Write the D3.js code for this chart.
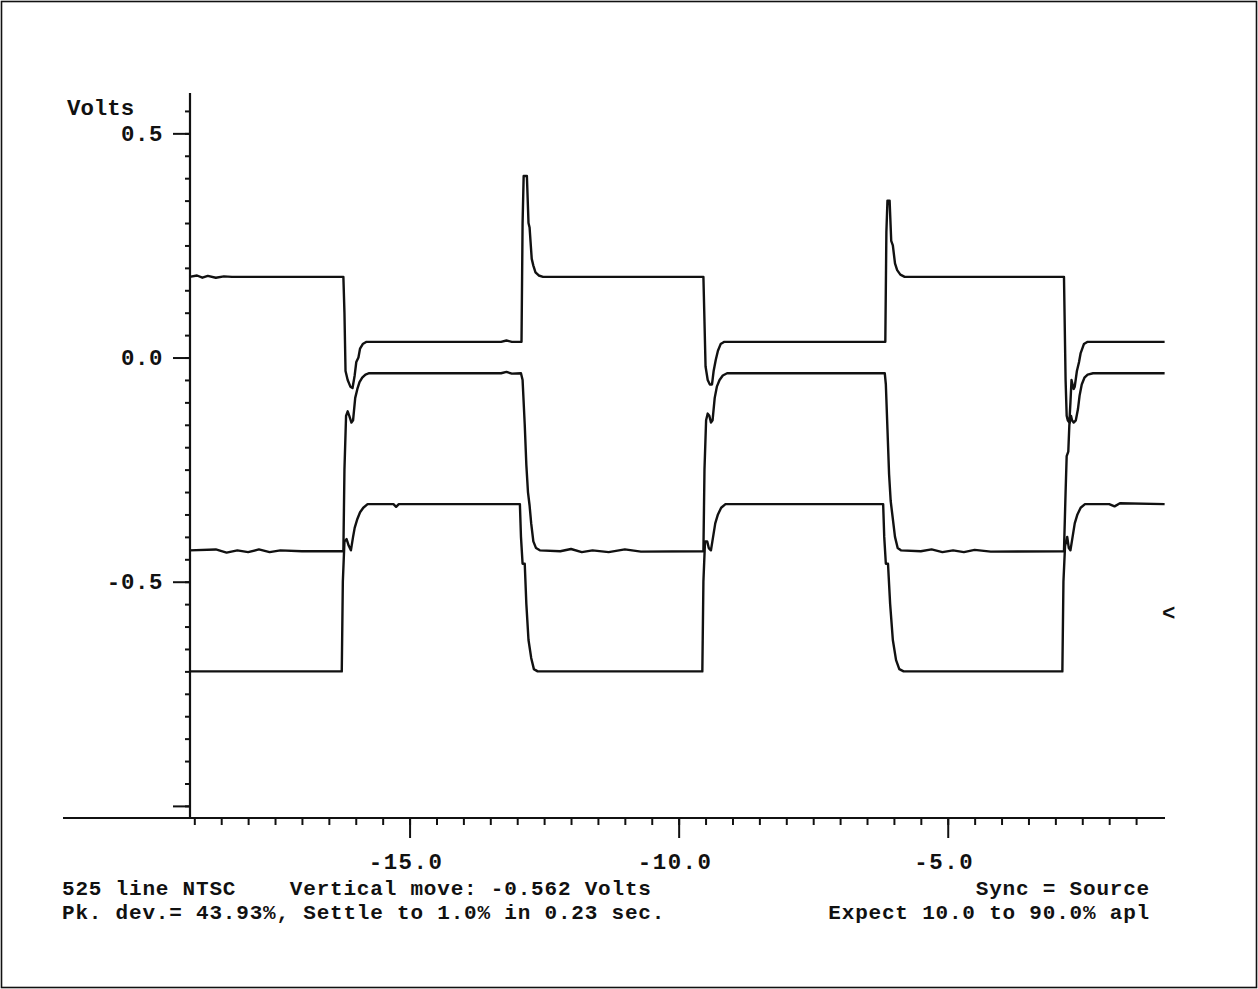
<!DOCTYPE html>
<html>
<head>
<meta charset="utf-8">
<script src="https://cdn.jsdelivr.net/npm/d3@7"></script>
<style>
	html, body { margin:0; padding:0; background:#fff; }
	svg text { font-family:"Liberation Mono","Courier New",monospace; font-weight:bold; fill:#111; }
</style>
</head>
<body>
<div id="chart"></div>
<script>
// traces: [time, volts]
const trace1 = [
	[-19.09,0.18],[-18.95,0.183],[-18.85,0.178],[-18.75,0.182],[-18.6,0.178],[-18.45,0.181],[-18.3,0.18],
	[-16.23,0.18],[-16.21,0.10],[-16.19,-0.03],[-16.15,-0.05],[-16.10,-0.065],[-16.06,-0.068],
	[-16.02,-0.04],[-15.99,-0.01],[-15.95,0.0],[-15.92,0.02],[-15.87,0.03],[-15.80,0.035],
	[-13.3,0.035],[-13.2,0.038],[-13.1,0.035],[-12.92,0.035],
	[-12.90,0.30],[-12.88,0.405],[-12.82,0.405],[-12.79,0.30],[-12.77,0.29],[-12.73,0.22],
	[-12.70,0.205],[-12.66,0.19],[-12.60,0.183],[-12.52,0.18],
	[-9.54,0.18],[-9.52,0.08],[-9.50,-0.02],[-9.46,-0.05],[-9.42,-0.06],[-9.38,-0.06],[-9.35,-0.03],
	[-9.31,-0.005],[-9.27,0.015],[-9.22,0.03],[-9.15,0.035],
	[-6.16,0.035],[-6.14,0.28],[-6.12,0.35],[-6.08,0.35],[-6.05,0.26],[-6.02,0.25],[-5.98,0.21],
	[-5.94,0.195],[-5.88,0.185],[-5.80,0.18],
	[-2.84,0.18],[-2.81,-0.05],[-2.79,-0.13],[-2.77,-0.14],[-2.74,-0.145],[-2.72,-0.10],[-2.70,-0.05],
	[-2.68,-0.06],[-2.66,-0.07],[-2.64,-0.065],[-2.60,-0.03],[-2.56,-0.01],[-2.53,0.01],[-2.47,0.03],
	[-2.40,0.035],[-0.97,0.035]
];

const trace2 = [
	[-19.09,-0.43],[-18.6,-0.428],[-18.4,-0.435],[-18.2,-0.43],[-18.0,-0.434],[-17.8,-0.428],[-17.6,-0.434],
	[-17.4,-0.43],[-17.0,-0.432],[-16.23,-0.432],
	[-16.21,-0.25],[-16.18,-0.13],[-16.15,-0.12],[-16.12,-0.13],[-16.08,-0.145],[-16.05,-0.14],
	[-16.01,-0.09],[-15.97,-0.07],[-15.93,-0.055],[-15.88,-0.045],[-15.82,-0.038],[-15.75,-0.035],
	[-13.3,-0.035],[-13.2,-0.032],[-13.1,-0.036],[-12.93,-0.035],
	[-12.90,-0.05],[-12.86,-0.15],[-12.83,-0.24],[-12.80,-0.30],[-12.77,-0.33],[-12.74,-0.37],
	[-12.70,-0.41],[-12.65,-0.425],[-12.58,-0.43],
	[-12.2,-0.432],[-12.0,-0.427],[-11.8,-0.434],[-11.6,-0.43],[-11.3,-0.434],[-11.0,-0.428],[-10.7,-0.433],
	[-9.54,-0.432],
	[-9.52,-0.25],[-9.49,-0.14],[-9.46,-0.125],[-9.43,-0.13],[-9.40,-0.145],[-9.37,-0.14],[-9.33,-0.09],
	[-9.29,-0.065],[-9.24,-0.05],[-9.18,-0.04],[-9.10,-0.035],
	[-6.17,-0.035],[-6.15,-0.06],[-6.12,-0.16],[-6.09,-0.26],[-6.06,-0.32],[-6.02,-0.36],[-5.98,-0.40],
	[-5.93,-0.425],[-5.87,-0.43],
	[-5.5,-0.432],[-5.3,-0.428],[-5.1,-0.434],[-4.9,-0.43],[-4.7,-0.434],[-4.5,-0.429],[-4.2,-0.433],
	[-2.84,-0.432],
	[-2.81,-0.30],[-2.79,-0.22],[-2.76,-0.21],[-2.74,-0.15],[-2.71,-0.13],[-2.69,-0.14],[-2.66,-0.145],
	[-2.62,-0.14],[-2.58,-0.115],[-2.55,-0.085],[-2.51,-0.06],[-2.46,-0.045],[-2.40,-0.038],
	[-2.30,-0.035],[-0.97,-0.035]
];

const trace3 = [
	[-19.09,-0.70],[-16.26,-0.70],
	[-16.24,-0.50],[-16.21,-0.41],[-16.17,-0.405],[-16.13,-0.42],[-16.09,-0.43],[-16.05,-0.40],
	[-16.02,-0.38],[-15.97,-0.36],[-15.92,-0.345],[-15.86,-0.335],[-15.78,-0.327],
	[-15.30,-0.327],[-15.25,-0.333],[-15.20,-0.327],[-12.95,-0.327],
	[-12.93,-0.40],[-12.90,-0.46],[-12.86,-0.46],[-12.83,-0.55],[-12.79,-0.63],[-12.74,-0.67],
	[-12.69,-0.695],[-12.62,-0.70],
	[-9.56,-0.70],[-9.54,-0.50],[-9.51,-0.41],[-9.47,-0.41],[-9.44,-0.425],[-9.40,-0.43],[-9.36,-0.40],
	[-9.32,-0.37],[-9.27,-0.35],[-9.21,-0.335],[-9.13,-0.327],
	[-6.20,-0.327],[-6.18,-0.40],[-6.15,-0.46],[-6.11,-0.46],[-6.07,-0.55],[-6.02,-0.63],[-5.96,-0.675],
	[-5.90,-0.695],[-5.82,-0.70],
	[-2.87,-0.70],[-2.85,-0.50],[-2.82,-0.42],[-2.78,-0.40],[-2.75,-0.425],[-2.72,-0.43],[-2.68,-0.40],
	[-2.64,-0.37],[-2.59,-0.35],[-2.53,-0.335],[-2.45,-0.327],
	[-2.0,-0.327],[-1.9,-0.332],[-1.8,-0.325],[-0.97,-0.327]
];

const traces = [trace1, trace2, trace3];

// axis ticks
const xMajor = [-15, -10, -5];
const xMinor = d3.range(-19, -1.4, 0.5).map(d => +d.toFixed(1));
const yMajor = [0.5, 0.0, -0.5, -1.0];
const yMinor = d3.range(-1.0, 0.56, 0.05).map(d => +d.toFixed(2));
const yLabelled = [0.5, 0.0, -0.5];

const markerVolts = -0.562;

const footerLeft = [
	"525 line NTSC    Vertical move: -0.562 Volts",
	"Pk. dev.= 43.93%, Settle to 1.0% in 0.23 sec."
];
const footerRight = [
	"Sync = Source",
	"Expect 10.0 to 90.0% apl"
];

const width = 1258;
const height = 989;
const fontSize = 22.4;
const footSize = 21;

const svg = d3.select('#chart').append('svg')
	.attr('width', width)
	.attr('height', height);

// outer frame of the print
svg.append('rect')
	.attr('x', 1.5).attr('y', 1.5)
	.attr('width', width - 3).attr('height', height - 3)
	.style('fill', 'none')
	.style('stroke', '#111')
	.style('stroke-width', 1.6);

const scaleX = d3.scaleLinear().domain([-19.08, -1.0]).range([190, 1163]);
const scaleY = d3.scaleLinear().domain([-1.027, 0.59]).range([818, 93]);

const plot = svg.append('g').attr('class', 'plot');

// y axis: minor + major ticks
const axisYMinor = d3.axisLeft(scaleY).tickValues(yMinor).tickSize(5).tickFormat('');
const axisYMajor = d3.axisLeft(scaleY).tickValues(yMajor).tickSize(17).tickPadding(10)
	.tickFormat(d => yLabelled.includes(d) ? d.toFixed(1) : '');

plot.append('g').attr('class', 'axis-y-minor')
	.attr('transform', `translate(${scaleX.range()[0]},0)`).call(axisYMinor);
plot.append('g').attr('class', 'axis-y')
	.attr('transform', `translate(${scaleX.range()[0]},0)`).call(axisYMajor);

// x axis
const axisXMinor = d3.axisBottom(scaleX).tickValues(xMinor).tickSize(7).tickFormat('');
const axisXMajor = d3.axisBottom(scaleX).tickValues(xMajor).tickSize(20).tickPadding(15)
	.tickFormat(d => d.toFixed(1));

plot.append('g').attr('class', 'axis-x-minor')
	.attr('transform', `translate(0,${scaleY.range()[0]})`).call(axisXMinor);
const gxMajor = plot.append('g').attr('class', 'axis-x')
	.attr('transform', `translate(0,${scaleY.range()[0]})`).call(axisXMajor);

plot.selectAll('.domain').style('display', 'none');
plot.selectAll('.tick line').style('stroke', '#111').style('stroke-width', 2);
plot.selectAll('.tick text')
	.style('font-size', fontSize + 'px')
	.style('letter-spacing', '0.6px')
	.style('fill', '#111');
gxMajor.selectAll('.tick text').attr('dx', '-4').style('letter-spacing', '1.5px');

// axis lines (x line runs past the y axis to the left, as on the print)
plot.append('line')
	.attr('x1', scaleX.range()[0]).attr('x2', scaleX.range()[0])
	.attr('y1', scaleY.range()[1]).attr('y2', scaleY.range()[0])
	.style('stroke', '#111').style('stroke-width', 2.2);
plot.append('line')
	.attr('x1', 63).attr('x2', scaleX.range()[1] + 2)
	.attr('y1', scaleY.range()[0]).attr('y2', scaleY.range()[0])
	.style('stroke', '#111').style('stroke-width', 2.2);

// traces
const line = d3.line()
	.x(d => scaleX(d[0]))
	.y(d => scaleY(d[1]));

plot.selectAll('.trace')
	.data(traces)
	.enter()
	.append('path')
	.attr('class', 'trace')
	.attr('d', line)
	.style('fill', 'none')
	.style('stroke', '#111')
	.style('stroke-width', 2.4)
	.style('stroke-linejoin', 'round');

// vertical move marker
plot.append('text')
	.attr('x', scaleX.range()[1] - 1)
	.attr('y', scaleY(markerVolts))
	.attr('dy', '0.45em')
	.style('font-size', fontSize + 'px')
	.text('<');

// labels
svg.append('text')
	.attr('x', 67).attr('y', 115)
	.style('font-size', fontSize + 'px')
	.text('Volts');

svg.selectAll('.foot-left')
	.data(footerLeft)
	.enter()
	.append('text')
	.attr('class', 'foot-left')
	.attr('x', 62)
	.attr('y', (d, i) => 895 + i * 24)
	.style('font-size', footSize + 'px')
	.style('letter-spacing', '0.8px')
	.style('white-space', 'pre')
	.attr('xml:space', 'preserve')
	.text(d => d);

svg.selectAll('.foot-right')
	.data(footerRight)
	.enter()
	.append('text')
	.attr('class', 'foot-right')
	.attr('x', 1150)
	.attr('y', (d, i) => 895 + i * 24)
	.attr('text-anchor', 'end')
	.style('font-size', footSize + 'px')
	.style('letter-spacing', '0.8px')
	.text(d => d);
</script>
</body>
</html>
